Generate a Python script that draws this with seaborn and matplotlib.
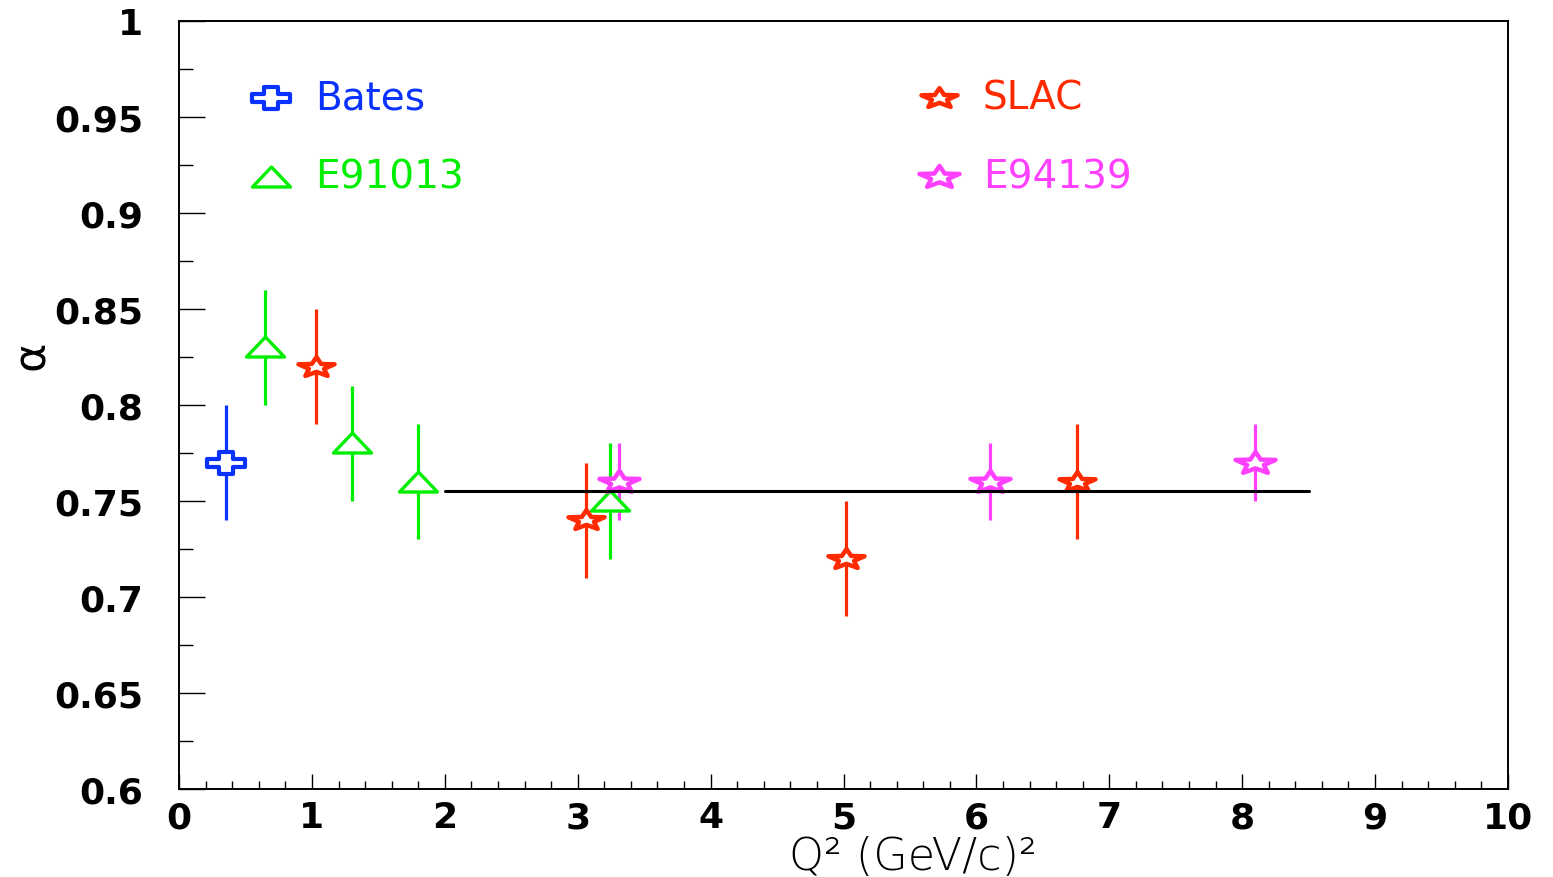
import numpy as np
import matplotlib
matplotlib.use("Agg")
import matplotlib.pyplot as plt
from matplotlib.path import Path
from matplotlib.markers import MarkerStyle
import seaborn as sns
import pandas as pd

# ---- data ----
bates_x = [0.35]
bates_y = [0.77]
bates_err = [0.03]

e91013_x = [0.65, 1.30, 1.80, 3.24]
e91013_y = [0.83, 0.78, 0.76, 0.75]
e91013_err = [0.03, 0.03, 0.03, 0.03]

slac_x = [1.03, 3.06, 5.02, 6.76]
slac_y = [0.82, 0.74, 0.72, 0.76]
slac_err = [0.03, 0.03, 0.03, 0.03]

e94139_x = [3.31, 6.10, 8.10]
e94139_y = [0.76, 0.76, 0.77]
e94139_err = [0.02, 0.02, 0.02]

fit_x = [2.0, 8.5]
fit_y = [0.755, 0.755]

labels = ["Bates", "E91013", "SLAC", "E94139"]
colors = ["#0a32ff", "#00ee00", "#ff2a00", "#ff40ff"]

sns.set_theme(style="white")
plt.rcParams['font.family'] = ['DejaVu Sans']

# ---- custom flattened markers (ROOT-style) ----
def cross_path():
    a, b = 1.0, 0.35
    h, k = 0.58, 0.22
    v = [(-a, -k), (-b, -k), (-b, -h), (b, -h), (b, -k), (a, -k),
         (a, k), (b, k), (b, h), (-b, h), (-b, k), (-a, k), (-a, -k)]
    return Path(v, closed=True)

def tri_path():
    v = [(0, 0.55), (-1, -0.5), (1, -0.5), (0, 0.55)]
    return Path(v, closed=True)

def star_path(sy=0.55):
    st = Path.unit_regular_star(5, innerCircle=0.42)
    v = st.vertices.copy()
    v[:, 1] *= sy
    return Path(v, st.codes)

mk = [MarkerStyle(cross_path()), MarkerStyle(tri_path()),
      MarkerStyle(star_path()), MarkerStyle(star_path())]
msize = [38, 38, 36, 40]
mlw = [3.0, 2.4, 3.2, 3.2]

series = [(bates_x, bates_y, bates_err), (e91013_x, e91013_y, e91013_err),
          (slac_x, slac_y, slac_err), (e94139_x, e94139_y, e94139_err)]

fig = plt.figure(figsize=(15.53, 8.78), dpi=100)
ax = fig.add_axes([0.1153, 0.1002, 0.971 - 0.1153, 0.975 - 0.1002])

for (x, y, e), lab, c, m, s, lw in zip(series, labels, colors, mk, msize, mlw):
    ax.errorbar(x, y, yerr=e, fmt='none', ecolor=c, elinewidth=2.3, capsize=0, zorder=2)
    df = pd.DataFrame({"x": x, "y": y})
    sns.scatterplot(data=df, x="x", y="y", ax=ax, marker=m, s=(s * 0.72) ** 2,
                    facecolor="white", edgecolor=c, linewidth=lw, label=lab, zorder=3)

fit_df = pd.DataFrame({"x": fit_x, "y": fit_y})
sns.lineplot(data=fit_df, x="x", y="y", ax=ax, color="black", linewidth=2.2, zorder=4)

ax.set_xlim(0, 10)
ax.set_ylim(0.6, 1.0)
ax.set_xticks(np.arange(0, 11, 1))
ax.set_xticks(np.arange(0, 10.01, 0.2), minor=True)
ax.set_yticks(np.arange(0.6, 1.001, 0.05))
ax.set_yticks(np.arange(0.6, 1.001, 0.025), minor=True)
ax.set_xticklabels([str(i) for i in range(11)])
ax.set_yticklabels(["0.6", "0.65", "0.7", "0.75", "0.8", "0.85", "0.9", "0.95", "1"])

ax.tick_params(axis='y', which='major', direction='in', length=19, width=1.0,
               pad=26, labelsize=26, left=True, colors='black')
ax.tick_params(axis='y', which='minor', direction='in', length=10, width=1.0, left=True,
               colors='black')
ax.tick_params(axis='x', which='major', direction='in', length=11, width=1.0,
               pad=8, labelsize=26, bottom=True, colors='black')
ax.tick_params(axis='x', which='minor', direction='in', length=5.5, width=1.0, bottom=True,
               colors='black')
for t in ax.get_xticklabels() + ax.get_yticklabels():
    t.set_fontweight('heavy')

for sp in ax.spines.values():
    sp.set_color('black')
    sp.set_linewidth(1.4)

ax.set_xlabel("Q² (GeV/c)²", fontsize=32, fontweight='light', ha='center', color='black')
ax.xaxis.set_label_coords(0.552, -0.06)
ax.set_ylabel("α", fontsize=32, rotation=90, color='black')
ax.yaxis.set_label_coords(-0.095, 0.566)

leg = ax.legend(loc='upper left', bbox_to_anchor=(0.040, 0.9457), ncol=2, frameon=False,
                fontsize=28, labelspacing=1.05, handlelength=1.2, handletextpad=0.54,
                columnspacing=11.6, labelcolor=colors, borderaxespad=0)

fig.savefig("out.png", dpi=100, facecolor="white")
